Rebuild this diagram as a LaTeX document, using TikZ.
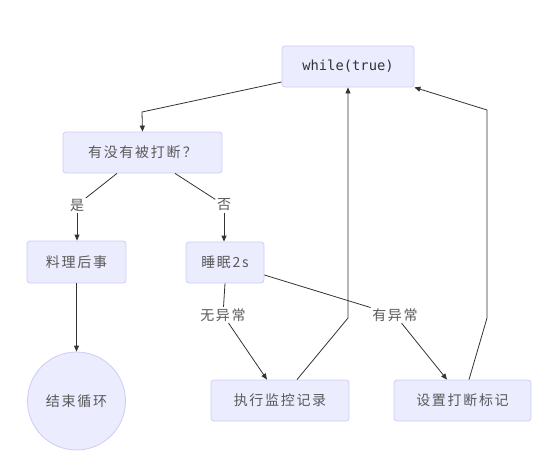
\documentclass[tikz,border=0pt]{standalone}
\usepackage{fontspec}
\setmainfont{Noto Sans CJK SC}[LetterSpace=12]
\setmonofont{DejaVu Sans Mono}
\usetikzlibrary{arrows.meta,calc}
\definecolor{boxfill}{HTML}{ECECFF}
\definecolor{boxline}{HTML}{CFCBF5}
\definecolor{edgecol}{HTML}{333333}
\definecolor{txt}{HTML}{595959}
\tikzset{
  flowbox/.style={draw=boxline, fill=boxfill, rounded corners=3pt, line width=0.8pt,
    text=txt, font=\fontsize{14}{16}\selectfont, inner sep=0pt},
  endcircle/.style={draw=boxline, fill=boxfill, circle, line width=0.8pt,
    text=txt, font=\fontsize{14}{16}\selectfont, minimum size=98pt, inner sep=0pt},
  edgelabel/.style={fill=white, text=txt, font=\fontsize{14}{16}\selectfont, inner sep=1.5pt},
  flow/.style={draw=edgecol, line width=0.8pt},
  arrow/.style={flow, -{Triangle[length=6pt,width=5pt]}}
}
\begin{document}
\begin{tikzpicture}[x=1pt,y=-1pt]
\useasboundingbox (0,0) rectangle (559,460);

% nodes
\node[flowbox, minimum width=132pt, minimum height=41pt, text=edgecol, font=\ttfamily\fontsize{13.8}{16}\selectfont]
  (loop) at (348,66.5) {while(true)};
\node[flowbox, minimum width=159pt, minimum height=41pt] (check) at (142.5,152.5) {有没有被打断\,？};
\node[flowbox, minimum width=99pt, minimum height=42pt] (cleanup) at (76.5,262) {料理后事};
\node[flowbox, minimum width=78pt, minimum height=41pt] (sleep) at (225,262.5) {睡眠2s};
\node[flowbox, minimum width=138pt, minimum height=41pt] (exec) at (280,400.5) {执行监控记录};
\node[flowbox, minimum width=137pt, minimum height=41pt] (setflag) at (462.5,400.5) {设置打断标记};
\node[endcircle] (finish) at (76.5,401) {结束循环};

% edge labels
\node[edgelabel] (yes) at (77,205) {是};
\node[edgelabel] (no) at (224,205) {否};
\node[edgelabel] (noexc) at (223,315) {无异常};
\node[edgelabel] (exc) at (395,315) {有异常};

% bends of the return paths
\coordinate (b0) at (142,112);
\coordinate (b1) at (348,318);
\coordinate (b2) at (487,318);
\coordinate (b3) at (487,110);

% connectors
\draw[arrow] ([yshift=-15.5pt]loop.west) -- (b0) -- (check.north);
\draw[flow] ([xshift=-25.5pt]check.south) -- (yes);
\draw[arrow] (yes.south) -- (yes.south |- cleanup.north);
\draw[flow] ([xshift=32.5pt]check.south) -- (no);
\draw[arrow] (no.south) -- (no.south |- sleep.north);
\draw[arrow] (cleanup.south) -- (finish.north);
\draw[flow] (sleep.south) -- (noexc);
\draw[arrow] (noexc) -- ([xshift=-13pt]exec.north);
\draw[flow] ([yshift=-12.5pt]sleep.east) -- (exc);
\draw[arrow] (exc) -- ([xshift=-15.5pt]setflag.north);
\draw[arrow] ([xshift=17pt]exec.north) -- (b1) -- (loop.south);
\draw[arrow] ([xshift=6.5pt]setflag.north) -- (b2) -- (b3) -- (loop.south east);
\end{tikzpicture}
\end{document}
